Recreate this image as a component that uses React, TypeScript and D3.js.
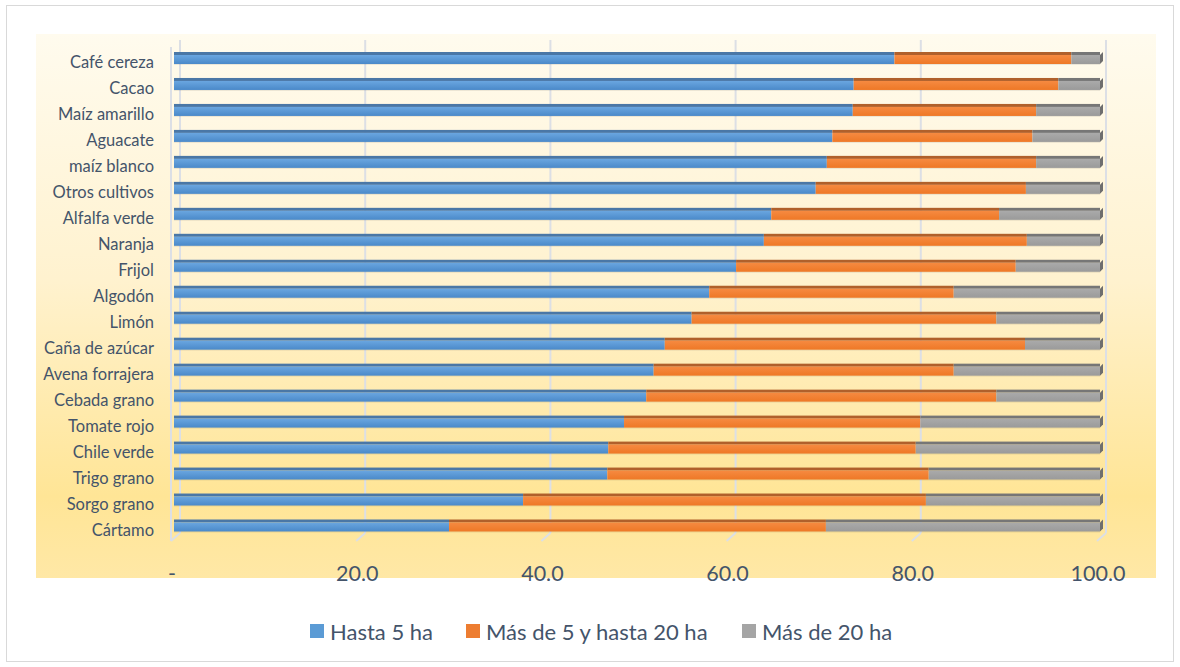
import React from 'react';
import * as d3 from 'd3';

const categories = [
  'Café cereza', 'Cacao', 'Maíz amarillo', 'Aguacate', 'maíz blanco', 'Otros cultivos',
  'Alfalfa verde', 'Naranja', 'Frijol', 'Algodón', 'Limón', 'Caña de azúcar',
  'Avena forrajera', 'Cebada grano', 'Tomate rojo', 'Chile verde', 'Trigo grano',
  'Sorgo grano', 'Cártamo',
];
const hasta5 = [77.8, 73.4, 73.3, 71.1, 70.5, 69.3, 64.5, 63.7, 60.7, 57.8, 55.9, 53.0, 51.8, 51.0, 48.6, 46.9, 46.8, 37.7, 29.7];
const de5a20 = [19.1, 22.1, 19.8, 21.6, 22.6, 22.7, 24.6, 28.4, 30.2, 26.4, 32.9, 38.9, 32.4, 37.8, 32.0, 33.2, 34.7, 43.5, 40.7];
const mas20 = [3.1, 4.5, 6.9, 7.3, 6.9, 8.0, 10.9, 7.9, 9.1, 15.8, 11.2, 8.1, 15.8, 11.2, 19.4, 19.9, 18.5, 18.8, 29.6];
const seriesNames = ['Hasta 5 ha', 'Más de 5 y hasta 20 ha', 'Más de 20 ha'];
const xTicks = [0, 20, 40, 60, 80, 100];

const W = 1180;
const H = 667;
const FONT = 'Lato, "Open Sans", sans-serif';
const TEXT = '#44546a';
const GRID = '#dcdfe5';

// colours: front top, front bottom, top face
const palette = [
  { hi: '#6aa6e0', lo: '#4a89c9', top: '#4a77a6', key: '#5b9bd5' },
  { hi: '#f68a41', lo: '#ee7826', top: '#b0602b', key: '#ed7d31' },
  { hi: '#aaaaaa', lo: '#9a9a9a', top: '#767676', key: '#a5a5a5' },
];

export default function App() {
  const x = d3.scaleLinear().domain([0, 100]).range([174, 1100]);
  const y = d3.scalePoint<string>().domain(categories).range([58, 525.5]);
  const dx = 6; // back wall offset
  const barH = 12;
  const topH = 3;

  const rows = categories.map((c, i) => ({ cat: c, a: hasta5[i], b: de5a20[i], c: mas20[i] }));
  const stack = d3.stack<any>().keys(['a', 'b', 'c'])(rows);

  const fmt = d3.format('.1f');

  return (
    <svg width={W} height={H} style={{ position: 'absolute', left: 0, top: 0, background: '#fff' }}>
      <defs>
        <linearGradient id="bg" x1="0" y1="0" x2="0" y2="1">
          <stop offset="0" stopColor="#fffbee" />
          <stop offset="0.45" stopColor="#fff2cf" />
          <stop offset="0.85" stopColor="#ffe596" />
          <stop offset="1" stopColor="#ffe8a6" />
        </linearGradient>
        {palette.map((p, i) => (
          <linearGradient key={i} id={`g${i}`} x1="0" y1="0" x2="0" y2="1">
            <stop offset="0" stopColor={p.hi} />
            <stop offset="1" stopColor={p.lo} />
          </linearGradient>
        ))}
      </defs>
      <rect x={6.5} y={5.5} width={1167} height={656} fill="#fff" stroke="#d9d9d9" />
      <rect x={36} y={34} width={1120} height={544} fill="url(#bg)" />

      {/* left wall */}
      <line x1={171} x2={171} y1={47} y2={541} stroke={GRID} strokeWidth={2} />
      {xTicks.map((t) => (
        <g key={t}>
          <line x1={x(t) + dx} x2={x(t) + dx} y1={40} y2={533} stroke={GRID} strokeWidth={2} />
          <line x1={x(t) + dx} x2={x(t) + dx - 9} y1={533} y2={541} stroke={GRID} strokeWidth={2} />
          <text x={x(t) - 2} y={573} textAnchor="middle" dominantBaseline="central"
            fontFamily={FONT} fontSize={21.5} fill={TEXT}>
            {t === 0 ? '-' : fmt(t)}
          </text>
        </g>
      ))}

      {stack.map((s, si) => (
        <g key={si}>
          {s.map((d, i) => {
            const cy = y(categories[i])!;
            const x0 = x(d[0]);
            const x1 = x(d[1]);
            const yt = cy - barH / 2;
            return (
              <g key={i}>
                <rect x={x0} y={yt} width={x1 - x0} height={topH} fill={palette[si].top} />
                <rect x={x0} y={yt + topH} width={x1 - x0} height={barH - topH} fill={`url(#g${si})`} />
                <line x1={x0} x2={x1} y1={yt + barH + 0.5} y2={yt + barH + 0.5} stroke="#000" strokeOpacity={0.08} />
                {si === 2 && (
                  <polygon
                    points={`${x1},${yt + topH} ${x1 + 3},${yt} ${x1 + 3},${yt + barH - 3} ${x1},${yt + barH}`}
                    fill="#6e6e6e"
                  />
                )}
              </g>
            );
          })}
        </g>
      ))}

      {categories.map((c) => (
        <text key={c} x={154} y={y(c)! + 4} textAnchor="end" dominantBaseline="central"
          fontFamily={FONT} fontSize={16.5} fill={TEXT}>
          {c}
        </text>
      ))}

      {/* legend */}
      {(() => {
        const starts = [310, 466, 742];
        return seriesNames.map((n, i) => (
          <g key={n}>
            <rect x={starts[i]} y={624} width={14} height={14} fill={palette[i].key} />
            <text x={starts[i] + 20} y={631} dominantBaseline="central"
              fontFamily={FONT} fontSize={22} fill={TEXT}>
              {n}
            </text>
          </g>
        ));
      })()}
    </svg>
  );
}
